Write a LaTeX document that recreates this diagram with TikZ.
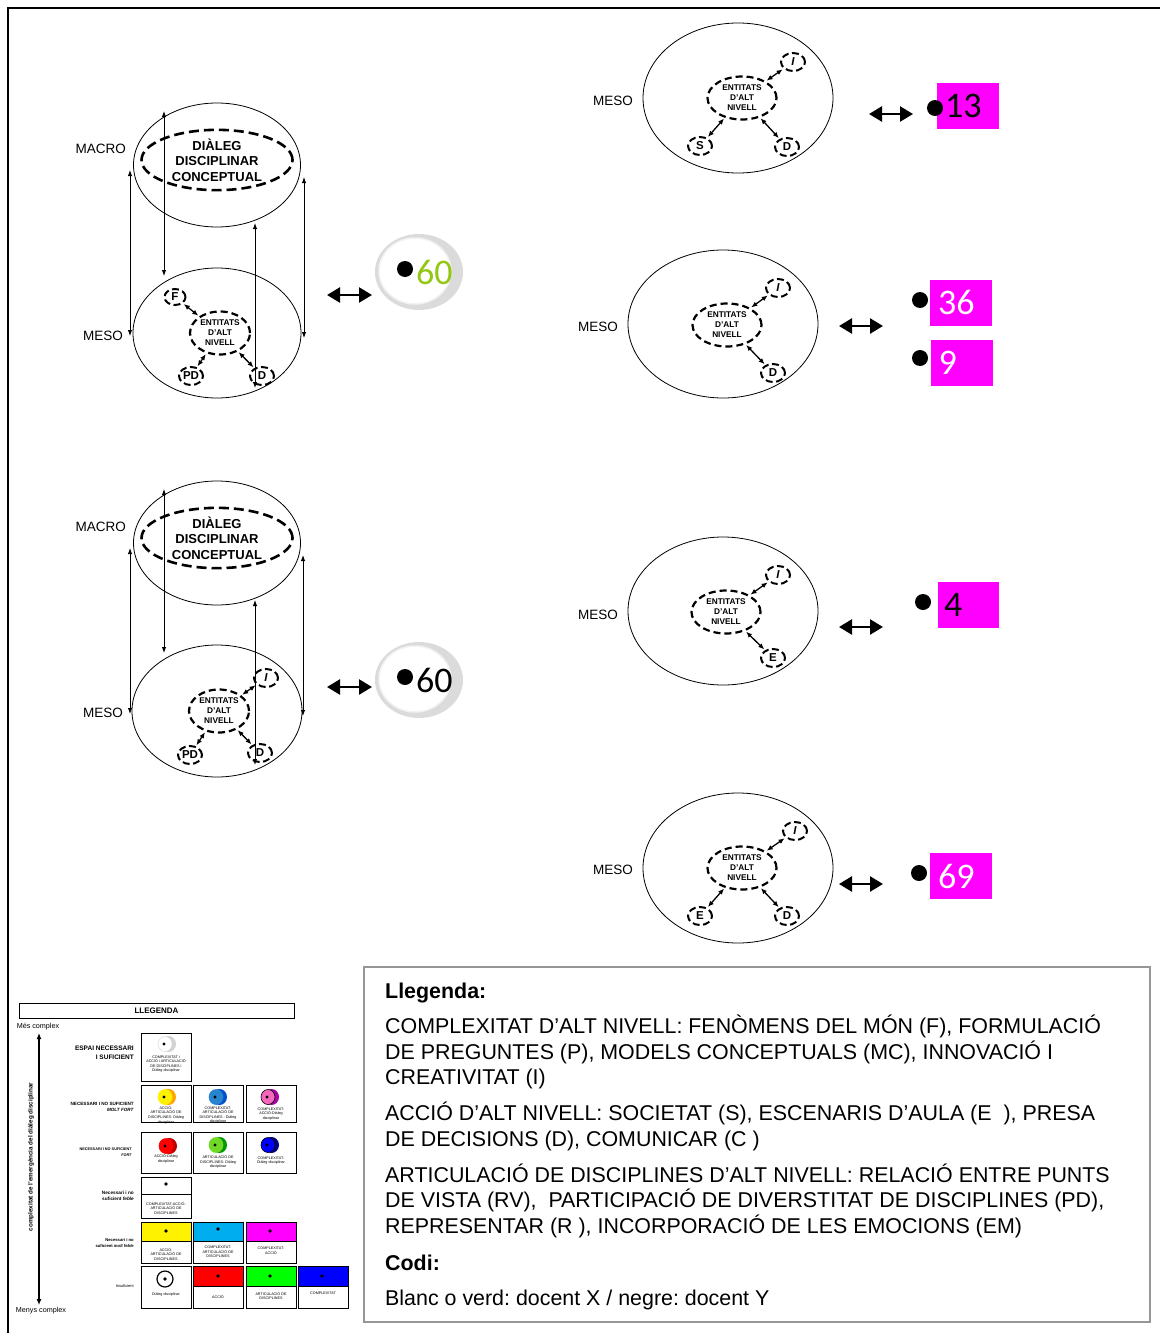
\documentclass[tikz,border=0pt]{standalone}
\usepackage{fontspec}
\setmainfont{Liberation Sans}
\newfontfamily\calib{Carlito}
\usetikzlibrary{shapes.geometric,arrows.meta,calc}
\frenchspacing

\definecolor{mag}{RGB}{255,0,255}
\definecolor{limegreen}{RGB}{146,200,20}
\definecolor{frameg}{RGB}{150,150,150}

% 3D disc used in the small legend: front colour, back colour
\newcommand\legdisc[5]{%
  \fill[#4] (#1+3.5,#2) ellipse[x radius=7.5pt, y radius=8pt];
  \fill[#3,draw=#5,line width=0.6pt] (#1,#2) ellipse[x radius=7pt, y radius=7.5pt];
  \fill[black] (#1-1,#2) circle[radius=1.6pt];}

\tikzset{
  bigell/.style={draw, ellipse, line width=0.8pt, inner sep=0pt},
  dashell/.style={draw, ellipse, line width=2.2pt, dash pattern=on 7pt off 4pt, inner sep=0pt},
  bigdash/.style={draw, ellipse, line width=2.6pt, dash pattern=on 10pt off 5pt, inner sep=0pt},
  entity/.style={dashell, minimum width=#1, minimum height=43pt, align=center,
    font=\bfseries\fontsize{8.3}{10}\selectfont},
  entity/.default=64pt,
  letterell/.style={dashell, line width=2pt, dash pattern=on 7pt off 3.5pt,
    minimum width=24pt, minimum height=18pt, font=\bfseries\fontsize{11.5}{11.5}\selectfont},
  lvltext/.style={font=\fontsize{13.5}{16}\selectfont, anchor=east, inner sep=0pt},
  elink/.style={{Latex[length=6pt,width=5pt]}-{Latex[length=6pt,width=5pt]}, line width=1.3pt,
    shorten <=1pt, shorten >=1pt},
  vlink/.style={{Latex[length=6pt,width=4.5pt]}-{Latex[length=6pt,width=4.5pt]}, line width=1pt},
  relarrow/.style={{Triangle[length=13pt,width=15pt]}-{Triangle[length=13pt,width=15pt]}, line width=2.5pt},
  bdot/.style={circle, fill=black, minimum size=16pt, inner sep=0pt},
  numbox/.style={fill=mag, minimum height=46pt, text width=46pt, inner xsep=8pt, align=left,
    font=\calib\fontsize{36}{36}\selectfont},
  bignum/.style={anchor=west, inner sep=0pt, font=\calib\fontsize{36}{36}\selectfont},
  lgtxt/.style={anchor=base west, inner sep=0pt, font=\fontsize{21.4}{26}\selectfont},
  lgbox/.style={draw, line width=1pt, minimum width=50pt, inner sep=0pt},
  lgsmall/.style={font=\fontsize{3.7}{4.6}\selectfont, align=center, inner sep=0pt},
  rowlbl/.style={anchor=east, align=right, inner sep=0pt},
}

\begin{document}
\begin{tikzpicture}[x=1pt,y=-1pt]
\useasboundingbox (0,0) rectangle (1160,1333);
\fill[white] (0,0) rectangle (1160,1333);
\draw[line width=1.5pt] (8,1333) -- (8,8) -- (1160,8);

% ---------------- first cylinder (MACRO / MESO) ----------------
\node[bigell, minimum width=167pt, minimum height=124pt] (c1top) at (217,165) {};
\node[bigdash, minimum width=151pt, minimum height=58pt, align=center,
  font=\bfseries\fontsize{13}{15.5}\selectfont] (c1dlg) at (217,160) {DIÀLEG\\DISCIPLINAR\\CONCEPTUAL};
\node[bigell, minimum width=168pt, minimum height=130pt] (c1bot) at (217,333) {};
\node[lvltext] (c1macro) at (126,149) {MACRO};
\node[lvltext] (c1meso) at (123,336) {MESO};

\coordinate (c1aT) at (130,170); \coordinate (c1aB) at (130,336);
\coordinate (c1bT) at (164,111); \coordinate (c1bB) at (164,276);
\coordinate (c1cT) at (255,223); \coordinate (c1cB) at (255,388);
\coordinate (c1dT) at (304,177); \coordinate (c1dB) at (304,338);
\draw[vlink] (c1aT) -- (c1aB);
\draw[vlink] (c1bT) -- (c1bB);
\draw[vlink] (c1cT) -- (c1cB);
\draw[vlink] (c1dT) -- (c1dB);

\node[entity=60pt] (c1ent) at (220,333) {ENTITATS\\D’ALT\\NIVELL};
\node[letterell, minimum width=21pt, minimum height=16pt] (c1f) at (175,297) {F};
\node[letterell] (c1pd) at (191,376) {PD};
\node[letterell] (c1d) at (262,376) {D};
\draw[elink] (c1ent) -- (c1f);
\draw[elink] (c1ent) -- (c1pd);
\draw[elink] (c1ent) -- (c1d);

\coordinate (c1rl) at (327,295); \coordinate (c1rr) at (372,295);
\draw[relarrow] (c1rl) -- (c1rr);
\node[ellipse, fill=gray!28, minimum width=88pt, minimum height=76pt, inner sep=0pt] (b1out) at (419,272) {};
\node[ellipse, fill=white, draw=gray!10, line width=1.5pt, minimum width=72pt, minimum height=66pt, inner sep=0pt] (b1in) at (415,271) {};
\node[bdot] (b1dot) at (405,269) {};
\node[bignum, text=limegreen] (b1num) at (416,272) {60};

% ---------------- second cylinder (MACRO / MESO) ----------------
\node[bigell, minimum width=167pt, minimum height=124pt] (c2top) at (217,543) {};
\node[bigdash, minimum width=151pt, minimum height=58pt, align=center,
  font=\bfseries\fontsize{13}{15.5}\selectfont] (c2dlg) at (217,538) {DIÀLEG\\DISCIPLINAR\\CONCEPTUAL};
\node[bigell, minimum width=170pt, minimum height=132pt] (c2bot) at (217,711) {};
\node[lvltext] (c2macro) at (126,527) {MACRO};
\node[lvltext] (c2meso) at (123,713) {MESO};

\coordinate (c2aT) at (130,548); \coordinate (c2aB) at (130,714);
\coordinate (c2bT) at (164,489); \coordinate (c2bB) at (164,653);
\coordinate (c2cT) at (255,600); \coordinate (c2cB) at (255,765);
\coordinate (c2dT) at (303,555); \coordinate (c2dB) at (303,716);
\draw[vlink] (c2aT) -- (c2aB);
\draw[vlink] (c2bT) -- (c2bB);
\draw[vlink] (c2cT) -- (c2cB);
\draw[vlink] (c2dT) -- (c2dB);

\node[entity=60pt] (c2ent) at (219,711) {ENTITATS\\D’ALT\\NIVELL};
\node[letterell, font=\bfseries\itshape\fontsize{11.5}{11.5}\selectfont] (c2i) at (266,678) {I};
\node[letterell] (c2pd) at (190,755) {PD};
\node[letterell] (c2d) at (260,753) {D};
\draw[elink] (c2ent) -- (c2i);
\draw[elink] (c2ent) -- (c2pd);
\draw[elink] (c2ent) -- (c2d);

\coordinate (c2rl) at (327,687); \coordinate (c2rr) at (372,687);
\draw[relarrow] (c2rl) -- (c2rr);
\node[ellipse, fill=gray!28, minimum width=88pt, minimum height=76pt, inner sep=0pt] (b2out) at (419,680) {};
\node[ellipse, fill=white, draw=gray!10, line width=1.5pt, minimum width=72pt, minimum height=66pt, inner sep=0pt] (b2in) at (415,679) {};
\node[bdot] (b2dot) at (405,677) {};
\node[bignum] (b2num) at (416,680) {60};

% ---------------- MESO panel 1 ----------------
\node[lvltext] (p1meso) at (633,101) {MESO};
\node[bigell, minimum width=190pt, minimum height=150pt] (p1) at (738,98) {};
\node[entity=69pt] (p1ent) at (742,98) {ENTITATS\\D’ALT\\NIVELL};
\node[letterell, font=\bfseries\itshape\fontsize{11.5}{11.5}\selectfont] (p1i) at (793,62) {I};
\node[letterell] (p1s) at (700,146) {S};
\node[letterell] (p1d) at (787,147) {D};
\draw[elink] (p1ent) -- (p1i);
\draw[elink] (p1ent) -- (p1s);
\draw[elink] (p1ent) -- (p1d);
\coordinate (p1rl) at (869,114); \coordinate (p1rr) at (913,114);
\draw[relarrow] (p1rl) -- (p1rr);
\node[numbox] (p1box) at (968,106) {13};
\node[bdot] (p1dot) at (935,108) {};

% ---------------- MESO panel 2 ----------------
\node[lvltext] (p2meso) at (618,327) {MESO};
\node[bigell, minimum width=190pt, minimum height=148pt] (p2) at (723,324) {};
\node[entity=69pt] (p2ent) at (727,325) {ENTITATS\\D’ALT\\NIVELL};
\node[letterell, font=\bfseries\itshape\fontsize{11.5}{11.5}\selectfont] (p2i) at (778,288) {I};
\node[letterell] (p2d) at (773,373) {D};
\draw[elink] (p2ent) -- (p2i);
\draw[elink] (p2ent) -- (p2d);
\coordinate (p2rl) at (839,326); \coordinate (p2rr) at (883,326);
\draw[relarrow] (p2rl) -- (p2rr);
\node[numbox, text=white] (p2box1) at (961,302.5) {36};
\node[numbox, text=white] (p2box2) at (961.5,362.5) {9};
\node[bdot] (p2dot1) at (920,300) {};
\node[bdot] (p2dot2) at (920,358) {};

% ---------------- MESO panel 3 ----------------
\node[lvltext] (p3meso) at (618,615) {MESO};
\node[bigell, minimum width=190pt, minimum height=148pt] (p3) at (723,611) {};
\node[entity=69pt] (p3ent) at (726,612) {ENTITATS\\D’ALT\\NIVELL};
\node[letterell, font=\bfseries\itshape\fontsize{11.5}{11.5}\selectfont] (p3i) at (778,575) {I};
\node[letterell] (p3e) at (773,658) {E};
\draw[elink] (p3ent) -- (p3i);
\draw[elink] (p3ent) -- (p3e);
\coordinate (p3rl) at (839,627); \coordinate (p3rr) at (883,627);
\draw[relarrow] (p3rl) -- (p3rr);
\node[numbox, inner xsep=6pt, text width=49pt] (p3box) at (968.5,604.5) {4};
\node[bdot] (p3dot) at (923,602) {};

% ---------------- MESO panel 4 ----------------
\node[lvltext] (p4meso) at (633,870) {MESO};
\node[bigell, minimum width=190pt, minimum height=150pt] (p4) at (738,868) {};
\node[entity=69pt] (p4ent) at (742,868) {ENTITATS\\D’ALT\\NIVELL};
\node[letterell, font=\bfseries\itshape\fontsize{11.5}{11.5}\selectfont] (p4i) at (795,831) {I};
\node[letterell] (p4e) at (700,916) {E};
\node[letterell] (p4d) at (787,916) {D};
\draw[elink] (p4ent) -- (p4i);
\draw[elink] (p4ent) -- (p4e);
\draw[elink] (p4ent) -- (p4d);
\coordinate (p4rl) at (839,884); \coordinate (p4rr) at (883,884);
\draw[relarrow] (p4rl) -- (p4rr);
\node[numbox, text=white] (p4box) at (961,876) {69};
\node[bdot] (p4dot) at (919,873) {};

% ---------------- text legend ----------------
\node[draw=frameg, line width=1.5pt, minimum width=786pt, minimum height=355pt, inner sep=0pt] (lgframe) at (757,1144.5) {};
\node[lgtxt, font=\bfseries\fontsize{21.4}{26}\selectfont] (lg0) at (385,998.5) {Llegenda:};
\node[lgtxt] (lg1) at (385,1033.5) {COMPLEXITAT D’ALT NIVELL: FENÒMENS DEL MÓN (F), FORMULACIÓ};
\node[lgtxt] (lg2) at (385,1059.5) {DE PREGUNTES (P), MODELS CONCEPTUALS (MC), INNOVACIÓ I};
\node[lgtxt] (lg3) at (385,1084.5) {CREATIVITAT (I)};
\node[lgtxt] (lg4) at (385,1120.5) {ACCIÓ D’ALT NIVELL: SOCIETAT (S), ESCENARIS D’AULA (E\ \ ), PRESA};
\node[lgtxt] (lg5) at (385,1146.5) {DE DECISIONS (D), COMUNICAR (C )};
\node[lgtxt] (lg6) at (385,1182.5) {ARTICULACIÓ DE DISCIPLINES D’ALT NIVELL: RELACIÓ ENTRE PUNTS};
\node[lgtxt] (lg7) at (385,1207.5) {DE VISTA (RV),\ \ PARTICIPACIÓ DE DIVERSTITAT DE DISCIPLINES (PD),};
\node[lgtxt] (lg8) at (385,1233.5) {REPRESENTAR (R ), INCORPORACIÓ DE LES EMOCIONS (EM)};
\node[lgtxt, font=\bfseries\fontsize{21.4}{26}\selectfont] (lg9) at (385,1270.5) {Codi:};
\node[lgtxt] (lg10) at (385,1305.5) {Blanc o verd: docent X / negre: docent Y};

% ---------------- small graphical legend ----------------
\node[draw, line width=0.8pt, minimum width=275pt, minimum height=15pt, inner sep=0pt,
  font=\bfseries\fontsize{8}{8}\selectfont] (lgtitle) at (156.5,1010.5) {LLEGENDA};
\node[font=\fontsize{7.2}{8}\selectfont, inner sep=0pt] (morec) at (38,1027) {Més complex};
\node[font=\fontsize{7.2}{8}\selectfont, inner sep=0pt] (lessc) at (41,1311) {Menys complex};
\coordinate (axT) at (39,1033); \coordinate (axB) at (39,1305);
\draw[{Latex[length=6pt,width=5pt]}-{Latex[length=6pt,width=5pt]}, line width=1.5pt] (axT) -- (axB);
\node[rotate=90, inner sep=0pt, font=\bfseries\fontsize{6.3}{7}\selectfont] (axlbl) at (31,1157)
  {complexitat de l’emergència del diàleg disciplinar};

% row labels
\node[rowlbl, font=\bfseries\fontsize{6.5}{9}\selectfont] (rl1) at (134,1052.5) {ESPAI NECESSARI\\I SUFICIENT};
\node[rowlbl, font=\bfseries\fontsize{4.6}{6}\selectfont] (rl2) at (134,1107) {NECESSARI I NO SUFICIENT\\\textit{MOLT FORT}};
\node[rowlbl, font=\bfseries\fontsize{3.8}{5.5}\selectfont] (rl3) at (132,1152) {NECESSARI I NO SUFICIENT\\\textit{FORT}};
\node[rowlbl, font=\bfseries\fontsize{4.7}{6}\selectfont] (rl4) at (134,1196) {Necessari i no\\suficient \textit{feble}};
\node[rowlbl, font=\bfseries\fontsize{4.2}{5.5}\selectfont] (rl5) at (134,1243) {Necessari i no\\suficient \textit{molt feble}};
\node[rowlbl, font=\fontsize{4}{5}\selectfont] (rl6) at (134,1286) {Insuficient};

% necessari i suficient
\node[lgbox, minimum height=48pt] (bx1) at (166,1057) {};
\legdisc{165}{1044}{white}{gray!35}{gray!25}
\node[lgsmall] (tx1) at (166,1064) {COMPLEXITAT i\\ACCIÓ i ARTICULACIÓ\\DE DISCIPLINES i\\Diàleg disciplinar};

% molt fort
\node[lgbox, minimum height=37pt] (bx21) at (166,1103.5) {};
\node[lgbox, minimum height=37pt] (bx22) at (218,1103.5) {};
\node[lgbox, minimum height=37pt] (bx23) at (271,1103.5) {};
\legdisc{165}{1097}{yellow}{orange!70!yellow}{yellow}
\legdisc{216}{1097}{cyan!60!blue!90}{blue!60!cyan!80!black}{cyan!60!blue!90}
\legdisc{268}{1097}{magenta!60}{violet!70!magenta}{black}
\node[lgsmall] (tx21) at (166,1115) {ACCIÓ-\\ARTICULACIÓ DE\\DISCIPLINES- Diàleg\\disciplinar};
\node[lgsmall] (tx22) at (218,1115) {COMPLEXITAT-\\ARTICULACIÓ DE\\DISCIPLINES - Diàleg\\disciplinar};
\node[lgsmall] (tx23) at (271,1114) {COMPLEXITAT-\\ACCIÓ-Diàleg\\disciplinar};

% fort
\node[lgbox, minimum height=41pt] (bx31) at (166,1152.5) {};
\node[lgbox, minimum height=41pt] (bx32) at (218,1152.5) {};
\node[lgbox, minimum height=41pt] (bx33) at (271,1152.5) {};
\legdisc{166}{1146}{red}{red!75!black}{red}
\legdisc{216}{1145}{green!45!lime!70!gray}{green!60!black}{green!45!lime!70!gray}
\legdisc{268}{1145}{blue}{blue!50!black}{black}
\node[lgsmall] (tx31) at (166,1159) {ACCIÓ-Diàleg\\disciplinar};
\node[lgsmall] (tx32) at (218,1162) {ARTICULACIÓ DE\\DISCIPLINES- Diàleg\\disciplinar};
\node[lgsmall] (tx33) at (271,1160.5) {COMPLEXITAT-\\Diàleg disciplinar};

% feble
\node[lgbox, minimum height=41pt] (bx4) at (166,1197.5) {};
\draw[line width=0.8pt] (141,1194) -- (191,1194);
\fill (166,1184) circle[radius=1.8pt];
\node[lgsmall] (tx4) at (166,1208) {COMPLEXITAT-ACCIÓ-\\ARTICULACIÓ DE\\DISCIPLINES};

% molt feble
\fill[yellow] (141,1222) rectangle (191,1241);
\fill[cyan] (193,1222) rectangle (243,1241);
\fill[mag] (246,1222) rectangle (296,1241);
\node[lgbox, minimum height=41pt] (bx51) at (166,1242.5) {};
\node[lgbox, minimum height=41pt] (bx52) at (218,1242.5) {};
\node[lgbox, minimum height=41pt] (bx53) at (271,1242.5) {};
\draw[line width=0.8pt] (141,1241) -- (191,1241) (193,1241) -- (243,1241) (246,1241) -- (296,1241);
\fill (166,1231) circle[radius=1.8pt];
\fill (218,1229) circle[radius=1.8pt];
\fill (270,1231) circle[radius=1.8pt];
\node[lgsmall] (tx51) at (166,1254) {ACCIÓ-\\ARTICULACIÓ DE\\DISCIPLINES};
\node[lgsmall] (tx52) at (218,1252) {COMPLEXITAT-\\ARTICULACIÓ DE\\DISCIPLINES};
\node[lgsmall] (tx53) at (271,1250.5) {COMPLEXITAT-\\ACCIÓ};

% insuficient
\fill[red] (193,1266) rectangle (243,1286);
\fill[green] (246,1266) rectangle (296,1286);
\fill[blue] (298,1266) rectangle (348,1286);
\node[lgbox, minimum height=42pt] (bx61) at (166,1287) {};
\node[lgbox, minimum height=42pt] (bx62) at (218,1287) {};
\node[lgbox, minimum height=42pt] (bx63) at (271,1287) {};
\node[lgbox, minimum height=42pt] (bx64) at (323,1287) {};
\draw[line width=0.8pt] (193,1286) -- (243,1286) (246,1286) -- (296,1286) (298,1286) -- (348,1286);
\draw[line width=1.2pt] (165,1279) circle[radius=8pt];
\fill (165,1279) circle[radius=1.8pt];
\fill (218,1276) circle[radius=1.8pt];
\fill (270,1276) circle[radius=1.8pt];
\fill (322,1276) circle[radius=1.8pt];
\node[lgsmall] (tx61) at (166,1295) {Diàleg disciplinar};
\node[lgsmall] (tx62) at (218,1297) {ACCIÓ};
\node[lgsmall] (tx63) at (271,1296) {ARTICULACIÓ DE\\DISCIPLINES};
\node[lgsmall] (tx64) at (323,1293) {COMPLEXITAT};
\end{tikzpicture}
\end{document}
